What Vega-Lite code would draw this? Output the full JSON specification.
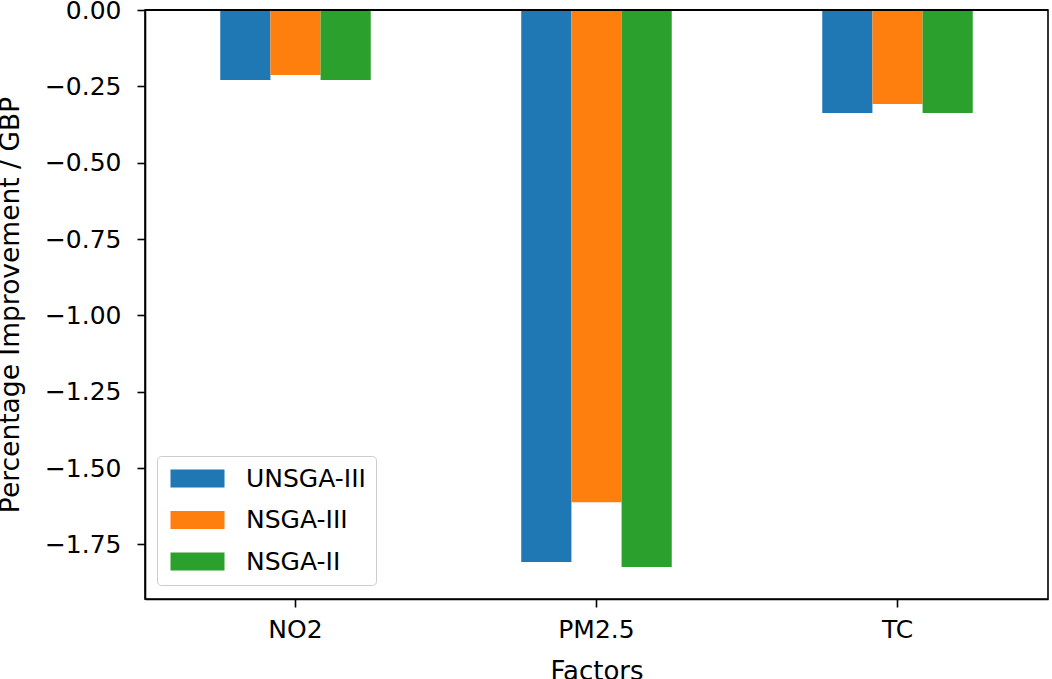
{
  "$schema": "https://vega.github.io/schema/vega-lite/v6.json",
  "autosize": "none",
  "width": 903,
  "height": 589,
  "padding": {"left": 145, "top": 10, "right": 4, "bottom": 80},
  "background": "white",
  "config": {
    "font": "DejaVu Sans",
    "view": {"stroke": "#000000", "strokeWidth": 1.6},
    "axis": {
      "domain": true,
      "domainColor": "#000000",
      "domainWidth": 1.6,
      "tickColor": "#000000",
      "tickWidth": 1.6,
      "tickSize": 8,
      "labelFont": "DejaVu Sans",
      "labelFontSize": 25,
      "labelColor": "#000000",
      "titleFont": "DejaVu Sans",
      "titleFontSize": 26,
      "titleFontWeight": "normal",
      "titleColor": "#000000",
      "grid": false,
      "zindex": 1
    }
  },
  "data": {
    "values": [
      {"factor": "NO2", "method": "UNSGA-III", "value": -0.229},
      {"factor": "NO2", "method": "NSGA-III", "value": -0.213},
      {"factor": "NO2", "method": "NSGA-II", "value": -0.229},
      {"factor": "PM2.5", "method": "UNSGA-III", "value": -1.808},
      {"factor": "PM2.5", "method": "NSGA-III", "value": -1.612},
      {"factor": "PM2.5", "method": "NSGA-II", "value": -1.824},
      {"factor": "TC", "method": "UNSGA-III", "value": -0.337},
      {"factor": "TC", "method": "NSGA-III", "value": -0.308},
      {"factor": "TC", "method": "NSGA-II", "value": -0.337}
    ]
  },
  "layer": [
    {
      "mark": {"type": "bar", "strokeWidth": 0},
      "encoding": {
        "x": {
          "field": "factor",
          "type": "nominal",
          "sort": ["NO2", "PM2.5", "TC"],
          "scale": {"paddingInner": 0.5, "paddingOuter": 0.25},
          "axis": {"labelAngle": 0, "labelPadding": 10, "title": "Factors", "titlePadding": 16}
        },
        "xOffset": {
          "field": "method",
          "type": "nominal",
          "sort": ["UNSGA-III", "NSGA-III", "NSGA-II"],
          "scale": {"paddingInner": 0, "paddingOuter": 0}
        },
        "y": {
          "field": "value",
          "type": "quantitative",
          "scale": {"domain": [-1.929, 0], "nice": false, "zero": true},
          "axis": {
            "values": [0, -0.25, -0.5, -0.75, -1.0, -1.25, -1.5, -1.75],
            "format": ".2f",
            "labelPadding": 16,
            "title": "Percentage Improvement / GBP",
            "titleFontSize": 26.5,
            "titlePadding": 20
          }
        },
        "color": {
          "field": "method",
          "type": "nominal",
          "sort": ["UNSGA-III", "NSGA-III", "NSGA-II"],
          "scale": {
            "domain": ["UNSGA-III", "NSGA-III", "NSGA-II"],
            "range": ["#1f77b4", "#ff7f0e", "#2ca02c"]
          },
          "legend": {
            "title": null,
            "orient": "none",
            "legendX": 12,
            "legendY": 446,
            "direction": "vertical",
            "padding": 10,
            "strokeColor": "#cccccc",
            "fillColor": "rgba(255,255,255,0.8)",
            "cornerRadius": 4,
            "symbolType": "M-1,-1H5V1H-1Z",
            "symbolSize": 324,
            "symbolStrokeWidth": 0,
            "symbolOpacity": 1,
            "labelFont": "DejaVu Sans",
            "labelFontSize": 25,
            "labelColor": "#000000",
            "labelOffset": 54,
            "rowPadding": 15.5
          }
        }
      }
    },
    {
      "mark": {"type": "rule", "color": "#000000", "strokeWidth": 1.6},
      "encoding": {"y": {"datum": 0}}
    }
  ]
}
